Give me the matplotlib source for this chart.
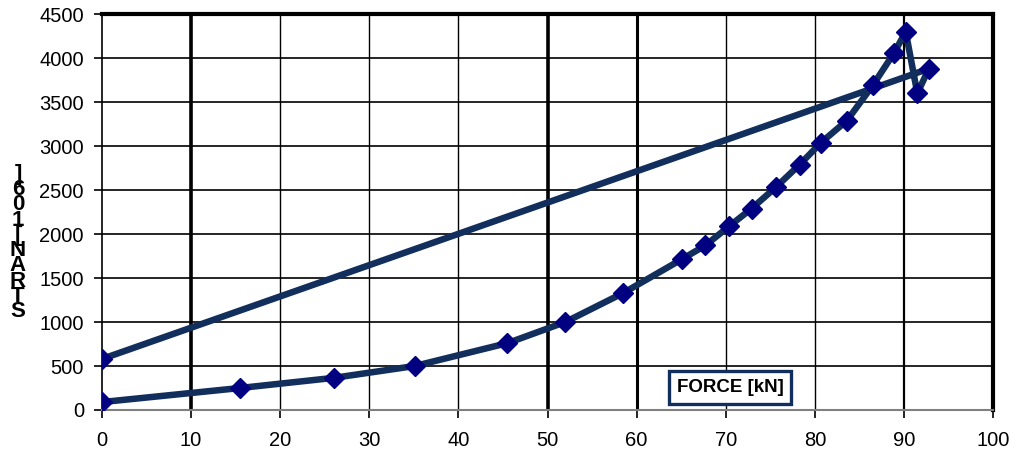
import matplotlib.pyplot as plt

plt.rcParams['font.family'] = ['Liberation Sans', 'DejaVu Sans']

# load path followed by the straight unloading line back to zero force
force = [0, 15.5, 26, 35.1, 45.5, 52, 58.5, 65.1, 67.7, 70.4, 72.9, 75.6,
         78.3, 80.7, 83.6, 86.5, 88.9, 90.2, 91.5, 92.8, 0]
strain = [90, 250, 365, 500, 760, 1000, 1330, 1715, 1870, 2090, 2290, 2530,
          2790, 3040, 3290, 3690, 4060, 4300, 3600, 3880, 580]

x_ticks = [0, 10, 20, 30, 40, 50, 60, 70, 80, 90, 100]
y_ticks = [0, 500, 1000, 1500, 2000, 2500, 3000, 3500, 4000, 4500]

fig = plt.figure(figsize=(10.18, 4.63), dpi=100)
ax = fig.add_axes([0.1002, 0.1145, 0.8753, 0.855])

ax.plot(force, strain, color='#122e5c', lw=4.7, marker='D', ms=10,
        mfc='#000080', mec='#000080', solid_joinstyle='round', zorder=3)

ax.set_xlim(0, 100)
ax.set_ylim(0, 4500)
ax.set_xticks(x_ticks)
ax.set_yticks(y_ticks)
ax.tick_params(labelsize=14.5, length=6, width=1.2, colors='black', pad=9)
ax.tick_params(axis='y', pad=7)

# horizontal grid
for v in y_ticks[1:]:
    ax.axhline(v, color='black', lw=1.2, zorder=1)
# vertical grid, some lines heavier
heavy = {10: 2.6, 50: 2.6, 60: 2.2, 90: 1.6}
for v in x_ticks[1:-1]:
    ax.axvline(v, color='black', lw=heavy.get(v, 1.0), zorder=1)

ax.spines['top'].set_linewidth(3)
ax.spines['right'].set_linewidth(3)
ax.spines['left'].set_linewidth(1.2)
ax.spines['bottom'].set_color('#808080')
ax.spines['bottom'].set_linewidth(1.5)

ax.text(0.705, 0.056, 'FORCE [kN]', transform=ax.transAxes, ha='center',
        va='center', fontsize=13.5, fontweight='bold', zorder=5,
        bbox=dict(boxstyle='square,pad=0.42', fc='white', ec='#122e5c', lw=2.4))

# stacked axis title
fig.text(18 / 1018, 1 - 243 / 463, '\n'.join(']601[NARTS'), ha='center',
         va='center', fontsize=16, fontweight='bold', linespacing=0.64)

fig.savefig('out.png', dpi=100)
